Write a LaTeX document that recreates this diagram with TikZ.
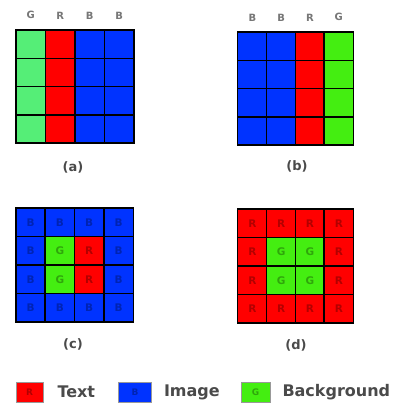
\documentclass[tikz,border=0pt]{standalone}
\usepackage{fontspec}
\setsansfont{DejaVu Sans}
\usetikzlibrary{positioning}
\definecolor{cR}{HTML}{FF0000}
\definecolor{cB}{HTML}{0033FF}
\definecolor{cG}{HTML}{44EE11}
\definecolor{paleG}{HTML}{55EE77}
\definecolor{labelgray}{HTML}{4A4A4A}
\tikzset{
  cell/.style={draw=black,line width=1.5pt,minimum width=29.5pt,minimum height=28.3pt,
    inner sep=0pt,font=\sffamily\bfseries\fontsize{10.5}{10.5}\selectfont,text opacity=0.3},
  hdr/.style={inner sep=1pt,text=labelgray!75,font=\sffamily\bfseries\fontsize{10}{10}\selectfont},
  caption/.style={inner sep=0pt,text=labelgray,font=\sffamily\bfseries\fontsize{13}{13}\selectfont},
  legbox/.style={draw=black!40,line width=0.6pt,minimum height=20pt,inner sep=0pt,
    font=\sffamily\bfseries\fontsize{9}{9}\selectfont,text opacity=0.3},
  legtext/.style={inner sep=0pt,anchor=west,text=labelgray,font=\sffamily\bfseries\fontsize{16}{16}\selectfont}
}
\begin{document}
\begin{tikzpicture}[x=1pt,y=-1pt,node distance=9pt]
\useasboundingbox (0,0) rectangle (392,410);
% (a) columns
\foreach \l/\col [count=\i] in {G/paleG,R/cR,B/cB,B/cB}{
  \foreach \j in {1,...,4}
    \node[cell,fill=\col] (a-\i-\j) at ({16+29.5*(\i-0.5)},{30+28.3*(\j-0.5)}) {};
  \node[hdr,above=of a-\i-1] (ah-\i) {\l};
}
\node[caption] (acap) at (73,167) {(a)};
% (b) columns
\foreach \l [count=\i] in {B,B,R,G}{
  \foreach \j in {1,...,4}
    \node[cell,fill=c\l] (b-\i-\j) at ({238+28.8*(\i-0.5)},{32+28.3*(\j-0.5)}) {};
  \node[hdr,above=of b-\i-1] (bh-\i) {\l};
}
\node[caption] (bcap) at (297,166) {(b)};
% (c) text inside image
\foreach \row [count=\j] in {{B,B,B,B},{B,G,R,B},{B,G,R,B},{B,B,B,B}}{
  \foreach \l [count=\i] in \row
    \node[cell,fill=c\l] (c-\i-\j) at ({16+29.3*(\i-0.5)},{208+28.5*(\j-0.5)}) {\l};
}
\node[caption] (ccap) at (73,344) {(c)};
% (d) background inside text
\foreach \row [count=\j] in {{R,R,R,R},{R,G,G,R},{R,G,G,R},{R,R,R,R}}{
  \foreach \l [count=\i] in \row
    \node[cell,fill=c\l] (d-\i-\j) at ({238+28.8*(\i-0.5)},{209+28.5*(\j-0.5)}) {\l};
}
\node[caption] (dcap) at (296,345) {(d)};
% legend
\node[legbox,fill=cR,minimum width=27pt] (leg-r) at (29.5,392) {R};
\node[legtext,right=14pt of leg-r] (leg-rt) {Text};
\node[legbox,fill=cB,minimum width=33pt] (leg-b) at (135,392) {B};
\node[legtext,right=12pt of leg-b] (leg-bt) {Image};
\node[legbox,fill=cG,minimum width=29pt] (leg-g) at (255.5,392) {G};
\node[legtext,right=12pt of leg-g] (leg-gt) {Background};
\end{tikzpicture}
\end{document}
